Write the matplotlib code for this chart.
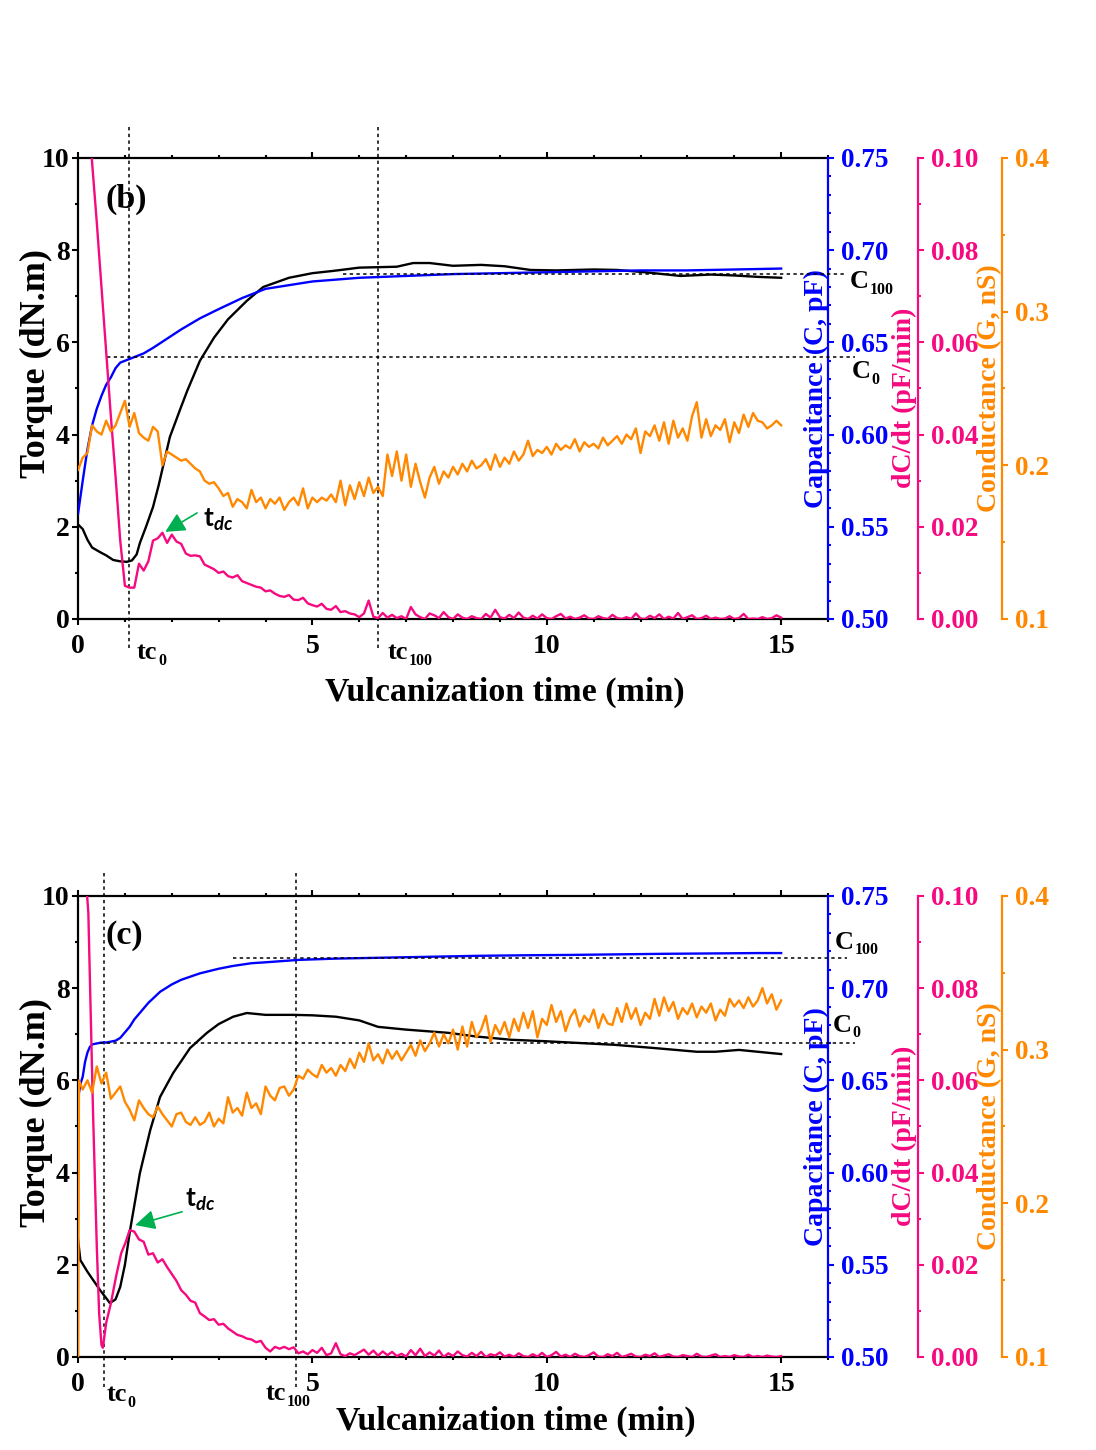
import numpy as np
import matplotlib
matplotlib.use("Agg")
import matplotlib.pyplot as plt
from matplotlib.ticker import MultipleLocator, FormatStrFormatter

# ─────────────────────────────────────────────
# STYLE
# ─────────────────────────────────────────────
plt.rcParams["font.family"] = "Liberation Serif"
plt.rcParams["font.weight"] = "bold"
plt.rcParams["mathtext.fontset"] = "custom"
plt.rcParams["mathtext.rm"] = "Liberation Serif"
plt.rcParams["mathtext.bf"] = "Liberation Serif:bold"
plt.rcParams["mathtext.sf"] = "Lato"
plt.rcParams["mathtext.it"] = "Lato:italic"

BLUE   = "#0000FF"
PINK   = "#F50A80"
ORANGE = "#FF8800"
GREEN  = "#00B050"

# ─────────────────────────────────────────────
# DATA – panel (b)
# ─────────────────────────────────────────────
torque_b_t = [0, 0.1, 0.2, 0.3, 0.47, 0.6, 0.75, 0.9, 1.04, 1.15, 1.25, 1.32, 1.45,
              1.6, 1.72, 1.82, 1.96, 2.18, 2.33, 2.6, 2.9, 3.2, 3.6, 3.95, 4.5, 5.0,
              5.45, 6.0, 6.4, 6.8, 7.15, 7.5, 8.0, 8.6, 9.1, 9.65, 10.2, 11.0, 11.5,
              12.1, 12.85, 13.5, 14.0, 14.5, 15.0]
torque_b = [2.05, 1.95, 1.72, 1.55, 1.45, 1.38, 1.28, 1.25, 1.24, 1.27, 1.40, 1.65, 2.0,
            2.43, 2.9, 3.34, 3.95, 4.55, 4.95, 5.6, 6.1, 6.5, 6.9, 7.2, 7.4, 7.5,
            7.55, 7.62, 7.63, 7.64, 7.72, 7.72, 7.66, 7.68, 7.65, 7.57, 7.56, 7.58, 7.57,
            7.52, 7.44, 7.47, 7.45, 7.42, 7.40]

cap_b_t = [0, 0.1, 0.2, 0.3, 0.4, 0.5, 0.6, 0.7, 0.8, 0.9, 1.0, 1.1, 1.2, 1.4, 1.6,
           1.9, 2.2, 2.6, 3.0, 3.5, 4.0, 4.5, 5.0, 5.5, 6.0, 6.5, 7.0, 8.0, 9.0,
           10.0, 11.0, 12.0, 13.0, 14.0, 15.0]
cap_b = [0.557, 0.575, 0.592, 0.605, 0.614, 0.621, 0.627, 0.631, 0.636, 0.639, 0.640,
         0.641, 0.642, 0.644, 0.647, 0.652, 0.657, 0.663, 0.668, 0.674, 0.679, 0.681,
         0.683, 0.684, 0.685, 0.6855, 0.686, 0.687, 0.6875, 0.688, 0.6885, 0.689,
         0.689, 0.6895, 0.690]

# dC/dt and conductance sampled every 0.1 min from 0 to 15 min
dcdt_b = [0.140, 0.127, 0.113, 0.099, 0.086, 0.072, 0.058, 0.044, 0.031, 0.017,
          0.0072, 0.0068, 0.0068, 0.0120, 0.0105, 0.0125, 0.0170, 0.0175, 0.0187, 0.0165,
          0.0183, 0.0168, 0.0163, 0.0142, 0.0137, 0.0138, 0.0136, 0.0118, 0.0113, 0.0108,
          0.0100, 0.0103, 0.0093, 0.0090, 0.0095, 0.0082, 0.0078, 0.0074, 0.0070, 0.0068,
          0.0060, 0.0062, 0.0055, 0.0050, 0.0048, 0.0052, 0.0042, 0.0041, 0.0046, 0.0034,
          0.0030, 0.0027, 0.0033, 0.0022, 0.0020, 0.0028, 0.0015, 0.0017, 0.0012, 0.0010,
          0.0004, 0.0012, 0.0040, 0.0005, 0.0002, 0.0013, 0.0003, 0.0009, 0.0002, 0.0006,
          0.0000, 0.0026, 0.0010, 0.0004, 0.0000, 0.0012, 0.0008, 0.0002, 0.0015, 0.0004,
          0.0000, 0.0010, 0.0003, 0.0000, 0.0006, 0.0002, 0.0000, 0.0011, 0.0003, 0.0020,
          0.0004, 0.0001, 0.0009, 0.0002, 0.0014, 0.0003, 0.0000, 0.0007, 0.0001, 0.0010,
          0.0002, 0.0000, 0.0006, 0.0011, 0.0001, 0.0005, 0.0000, 0.0003, 0.0008, 0.0001,
          0.0000, 0.0006, 0.0002, 0.0000, 0.0009, 0.0002, 0.0000, 0.0004, 0.0000, 0.0012,
          0.0001, 0.0000, 0.0007, 0.0002, 0.0010, 0.0000, 0.0005, 0.0001, 0.0013, 0.0000,
          0.0004, 0.0008, 0.0000, 0.0002, 0.0007, 0.0000, 0.0003, 0.0000, 0.0001, 0.0006,
          0.0000, 0.0002, 0.0011, 0.0000, 0.0001, 0.0000, 0.0004, 0.0000, 0.0002, 0.0008,
          0.0003]

cond_b = [0.197, 0.205, 0.208, 0.226, 0.222, 0.220, 0.229, 0.222, 0.226, 0.234,
          0.242, 0.225, 0.234, 0.221, 0.218, 0.216, 0.225, 0.222, 0.200, 0.209,
          0.207, 0.205, 0.203, 0.204, 0.201, 0.198, 0.196, 0.190, 0.188, 0.189,
          0.185, 0.180, 0.182, 0.173, 0.178, 0.176, 0.172, 0.184, 0.176, 0.179,
          0.172, 0.178, 0.175, 0.179, 0.171, 0.176, 0.179, 0.174, 0.185, 0.172,
          0.179, 0.176, 0.179, 0.177, 0.181, 0.176, 0.190, 0.174, 0.187, 0.178,
          0.189, 0.180, 0.192, 0.182, 0.186, 0.180, 0.207, 0.193, 0.209, 0.190,
          0.207, 0.186, 0.201, 0.189, 0.179, 0.192, 0.199, 0.188, 0.196, 0.192,
          0.199, 0.194, 0.201, 0.196, 0.203, 0.198, 0.200, 0.204, 0.197, 0.207,
          0.199, 0.205, 0.201, 0.209, 0.203, 0.207, 0.216, 0.206, 0.210, 0.208,
          0.212, 0.207, 0.214, 0.210, 0.213, 0.211, 0.217, 0.209, 0.215, 0.212,
          0.214, 0.211, 0.218, 0.213, 0.216, 0.219, 0.214, 0.220, 0.217, 0.224,
          0.208, 0.222, 0.219, 0.226, 0.216, 0.228, 0.214, 0.229, 0.218, 0.224,
          0.216, 0.232, 0.241, 0.218, 0.230, 0.219, 0.226, 0.223, 0.230, 0.215,
          0.228, 0.221, 0.233, 0.225, 0.234, 0.229, 0.228, 0.224, 0.226, 0.229,
          0.226]

tc0_b, tc100_b = 1.09, 6.40
c0_b, c100_b   = 0.642, 0.687
tdc_b          = (1.86, 1.89)     # (min, torque-axis position of the peak)

# ─────────────────────────────────────────────
# DATA – panel (c)
# ─────────────────────────────────────────────
torque_c_t = [0, 0.05, 0.2, 0.47, 0.68, 0.8, 0.9, 1.0, 1.11, 1.32, 1.54, 1.75, 2.03,
              2.39, 2.75, 3.0, 3.31, 3.6, 4.0, 4.6, 5.0, 5.5, 6.0, 6.4, 7.0, 7.9,
              8.5, 9.24, 9.94, 10.5, 11.45, 12.3, 13.2, 13.6, 14.1, 14.5, 15.0]
torque_c = [2.55, 2.1, 1.85, 1.45, 1.17, 1.25, 1.52, 2.0, 2.75, 3.99, 4.92, 5.64, 6.16,
            6.7, 7.03, 7.22, 7.38, 7.46, 7.42, 7.42, 7.41, 7.38, 7.30, 7.16, 7.10, 7.03,
            6.95, 6.88, 6.85, 6.82, 6.77, 6.70, 6.62, 6.62, 6.66, 6.62, 6.57]

cap_c_t = [0, 0.05, 0.1, 0.15, 0.2, 0.25, 0.3, 0.4, 0.5, 0.6, 0.7, 0.8, 0.9, 1.0, 1.1,
           1.2, 1.3, 1.5, 1.75, 2.0, 2.2, 2.6, 3.0, 3.3, 3.7, 4.0, 4.7, 5.5, 6.5, 7.5,
           8.5, 9.5, 10.5, 11.5, 12.5, 13.5, 14.5, 15.0]
cap_c = [0.640, 0.648, 0.652, 0.660, 0.665, 0.668, 0.6695, 0.670, 0.6705, 0.6705,
         0.671, 0.6715, 0.673, 0.676, 0.679, 0.683, 0.686, 0.692, 0.698, 0.702, 0.7045,
         0.708, 0.7105, 0.712, 0.7135, 0.714, 0.7153, 0.716, 0.7165, 0.717, 0.7175,
         0.7178, 0.718, 0.7183, 0.7186, 0.7188, 0.719, 0.719]

# steep initial part of dC/dt, then every 0.1 min from 1.1 to 15 min
dcdt_c_head_t = [0.0, 0.1, 0.18, 0.22, 0.27, 0.32, 0.4, 0.45, 0.5, 0.53, 0.6, 0.7,
                 0.81, 0.92, 1.02]
dcdt_c_head = [0.140, 0.118, 0.102, 0.0963, 0.0746, 0.053, 0.024, 0.0095, 0.0026,
               0.0020, 0.0074, 0.0116, 0.0174, 0.0225, 0.0250]
dcdt_c = [0.0275, 0.0272, 0.0255, 0.0250, 0.0222, 0.0225, 0.0205, 0.0212, 0.0195, 0.0180,
          0.0165, 0.0145, 0.0135, 0.0122, 0.0118, 0.0095, 0.0088, 0.0080, 0.0082, 0.0070,
          0.0072, 0.0062, 0.0055, 0.0048, 0.0045, 0.0040, 0.0038, 0.0032, 0.0035, 0.0020,
          0.0012, 0.0022, 0.0018, 0.0022, 0.0017, 0.0021, 0.0008, 0.0012, 0.0006, 0.0015,
          0.0009, 0.0020, 0.0004, 0.0008, 0.0030, 0.0006, 0.0002, 0.0008, 0.0004, 0.0010,
          0.0016, 0.0005, 0.0014, 0.0003, 0.0012, 0.0004, 0.0011, 0.0002, 0.0007, 0.0001,
          0.0015, 0.0004, 0.0018, 0.0002, 0.0010, 0.0003, 0.0014, 0.0000, 0.0008, 0.0002,
          0.0012, 0.0004, 0.0001, 0.0009, 0.0002, 0.0011, 0.0000, 0.0006, 0.0003, 0.0010,
          0.0001, 0.0005, 0.0000, 0.0008, 0.0002, 0.0000, 0.0006, 0.0001, 0.0009, 0.0000,
          0.0004, 0.0011, 0.0001, 0.0005, 0.0000, 0.0007, 0.0002, 0.0000, 0.0004, 0.0010,
          0.0001, 0.0000, 0.0006, 0.0002, 0.0009, 0.0000, 0.0003, 0.0007, 0.0001, 0.0000,
          0.0005, 0.0002, 0.0008, 0.0000, 0.0003, 0.0006, 0.0001, 0.0000, 0.0004, 0.0002,
          0.0000, 0.0007, 0.0001, 0.0000, 0.0003, 0.0006, 0.0000, 0.0002, 0.0000, 0.0004,
          0.0001, 0.0000, 0.0005, 0.0000, 0.0002, 0.0000, 0.0003, 0.0001, 0.0000, 0.0002]

# conductance: jump at start, then every 0.1 min from 0.1 to 15 min
cond_c_head_t = [0.0, 0.02]
cond_c_head = [0.100, 0.280]
cond_c = [0.274, 0.280, 0.272, 0.289, 0.278, 0.285, 0.268, 0.272, 0.276, 0.266,
          0.261, 0.254, 0.267, 0.262, 0.258, 0.256, 0.263, 0.258, 0.254, 0.250,
          0.258, 0.259, 0.253, 0.251, 0.256, 0.251, 0.253, 0.259, 0.250, 0.255,
          0.252, 0.269, 0.259, 0.262, 0.257, 0.272, 0.262, 0.265, 0.258, 0.276,
          0.270, 0.267, 0.275, 0.276, 0.270, 0.274, 0.283, 0.281, 0.287, 0.284,
          0.282, 0.290, 0.285, 0.288, 0.283, 0.290, 0.286, 0.294, 0.288, 0.298,
          0.292, 0.304, 0.293, 0.297, 0.291, 0.300, 0.294, 0.299, 0.293, 0.298,
          0.303, 0.296, 0.306, 0.299, 0.304, 0.311, 0.302, 0.310, 0.304, 0.313,
          0.300, 0.315, 0.302, 0.318, 0.308, 0.313, 0.322, 0.305, 0.316, 0.310,
          0.318, 0.308, 0.320, 0.312, 0.324, 0.314, 0.325, 0.308, 0.320, 0.316,
          0.329, 0.318, 0.325, 0.312, 0.321, 0.326, 0.315, 0.322, 0.318, 0.326,
          0.314, 0.323, 0.317, 0.316, 0.327, 0.318, 0.330, 0.320, 0.327, 0.316,
          0.324, 0.320, 0.333, 0.322, 0.334, 0.325, 0.331, 0.320, 0.327, 0.323,
          0.330, 0.321, 0.328, 0.324, 0.330, 0.319, 0.326, 0.322, 0.333, 0.328,
          0.332, 0.327, 0.334, 0.328, 0.332, 0.340, 0.330, 0.336, 0.326, 0.332]

tc0_c, tc100_c = 0.56, 4.65
c0_c, c100_c   = 0.6703, 0.7164
tdc_c          = (1.22, 2.86)


def grid(start, stop=15.0, step=0.1):
    return np.round(np.arange(start, stop + step / 2, step), 2)


def sub_label(ax, x, y, main, sub, size=19):
    """Bold serif label with a small subscript hanging below its baseline."""
    t = ax.text(x, y, main, fontsize=size, va="center", ha="left", clip_on=False)
    ax.annotate(sub, xy=(1.0, 0.0), xycoords=t, xytext=(0.5, -3.5),
                textcoords="offset points", fontsize=size * 0.6,
                ha="left", va="bottom", annotation_clip=False)
    return t


# ─────────────────────────────────────────────
# Panel drawing
# ─────────────────────────────────────────────
def draw_panel(fig, bottom, p):
    ax = fig.add_axes([0.0712, bottom, 0.6843, 0.318])
    ax_c = ax.twinx()
    ax_d = ax.twinx()
    ax_g = ax.twinx()

    # ── torque (left axis) ────────────────────────────────────────────
    ax.plot(p["torque_t"], p["torque"], color="black", lw=1.7, zorder=3)
    ax.set_xlim(0, 16)
    ax.set_ylim(0, 10)
    ax.xaxis.set_major_locator(MultipleLocator(5))
    ax.xaxis.set_minor_locator(MultipleLocator(1))
    ax.yaxis.set_major_locator(MultipleLocator(2))
    ax.yaxis.set_minor_locator(MultipleLocator(1))
    ax.tick_params(which="both", direction="out", width=1.5, top=True, right=False,
                   labelsize=20)
    ax.tick_params(which="major", length=4.5)
    ax.tick_params(which="minor", length=2.5)
    ax.tick_params(axis="y", pad=1.5)
    ax.tick_params(axis="x", pad=6)
    for s in ["left", "bottom", "top"]:
        ax.spines[s].set_linewidth(1.6)
    ax.spines["right"].set_visible(False)
    ax.set_ylabel("Torque (dN.m)", fontsize=26, fontweight="bold")
    ax.yaxis.set_label_coords(-0.034, p["ylab_y"])
    ax.set_xlabel("Vulcanization time (min)", fontsize=24.5, fontweight="bold")
    ax.xaxis.set_label_coords(p["xlab_x"], p["xlab_y"])

    # ── capacitance ───────────────────────────────────────────────────
    ax_c.plot(p["cap_t"], p["cap"], color=BLUE, lw=1.7)
    ax_c.set_ylim(0.50, 0.75)
    ax_c.yaxis.set_major_locator(MultipleLocator(0.05))
    ax_c.yaxis.set_minor_locator(MultipleLocator(0.01))
    ax_c.yaxis.set_major_formatter(FormatStrFormatter("%.2f"))

    # ── dC/dt ─────────────────────────────────────────────────────────
    ax_d.plot(p["dcdt_t"], p["dcdt"], color=PINK, lw=1.7)
    ax_d.set_ylim(0, 0.10)
    ax_d.yaxis.set_major_locator(MultipleLocator(0.02))
    ax_d.yaxis.set_minor_locator(MultipleLocator(0.01))
    ax_d.yaxis.set_major_formatter(FormatStrFormatter("%.2f"))
    ax_d.spines["right"].set_position(("axes", 1.12))

    # ── conductance ───────────────────────────────────────────────────
    ax_g.plot(p["cond_t"], p["cond"], color=ORANGE, lw=1.7)
    ax_g.set_ylim(0.1, 0.4)
    ax_g.yaxis.set_major_locator(MultipleLocator(0.1))
    ax_g.yaxis.set_minor_locator(MultipleLocator(0.05))
    ax_g.yaxis.set_major_formatter(FormatStrFormatter("%.1f"))
    ax_g.spines["right"].set_position(("axes", 1.232))

    for tw, col in [(ax_c, BLUE), (ax_d, PINK), (ax_g, ORANGE)]:
        for s in ["left", "bottom", "top"]:
            tw.spines[s].set_visible(False)
        tw.spines["right"].set_color(col)
        tw.spines["right"].set_linewidth(1.6)
        tw.tick_params(which="both", direction="out", width=1.5, colors=col,
                       labelsize=19.5, pad=5)
        tw.tick_params(which="major", length=4.5)
        tw.tick_params(which="minor", length=2.5)

    rlab = dict(rotation=90, ha="center", va="center", fontsize=20, fontweight="bold")
    ax_c.text(0.985, 0.50, "Capacitance (C, pF)", color=BLUE, transform=ax_c.transAxes, **rlab)
    ax_d.text(1.102, 0.48, "dC/dt (pF/min)", color=PINK, transform=ax_d.transAxes, **rlab)
    ax_g.text(1.215, 0.50, "Conductance (G, nS)", color=ORANGE, transform=ax_g.transAxes, **rlab)

    # ── reference lines tc0 / tc100 / C0 / C100 ───────────────────────
    dot = dict(color="black", lw=1.1, linestyle=(0, (2.2, 2.2)), clip_on=False, zorder=5)
    ax.plot([p["tc0"], p["tc0"]], [p["vtop"], -0.65], **dot)
    ax.plot([p["tc100"], p["tc100"]], [p["vtop"], -0.65], **dot)
    ax_c.plot([p["c0_x0"], 16.58], [p["c0"], p["c0"]], **dot)
    ax_c.plot([p["c100_x0"], 16.41], [p["c100"], p["c100"]], **dot)

    sub_label(ax, p["tc0_lab"][0], p["tc0_lab"][1], "tc", "0")
    sub_label(ax, p["tc100_lab"][0], p["tc100_lab"][1], "tc", "100")
    sub_label(ax_c, p["c100_lab"][0], p["c100_lab"][1], "C", "100")
    sub_label(ax_c, p["c0_lab"][0], p["c0_lab"][1], "C", "0")

    # ── t_dc arrow ────────────────────────────────────────────────────
    tip = p["tdc"]
    ax_g.annotate("", xy=tip, xycoords=ax.transData,
                  xytext=p["tdc_tail"], textcoords=ax.transData,
                  arrowprops=dict(arrowstyle="-|>", color=GREEN, lw=1.2,
                                  mutation_scale=30, shrinkA=0, shrinkB=0))
    ax_g.text(p["tdc_lab"][0], p["tdc_lab"][1], r"$\mathsf{t}_{\mathit{dc}}$",
              transform=ax.transData, fontsize=19, va="center", ha="left")

    ax.text(p["panel_xy"][0], p["panel_xy"][1], p["panel"], fontsize=24.5,
            fontweight="bold", ha="center", va="center")
    return ax


if __name__ == "__main__":
    fig = plt.figure(figsize=(10.96, 14.5), dpi=100)

    panel_b = dict(
        torque_t=torque_b_t, torque=torque_b, cap_t=cap_b_t, cap=cap_b,
        dcdt_t=grid(0.0), dcdt=dcdt_b, cond_t=grid(0.0), cond=cond_b,
        tc0=tc0_b, tc100=tc100_b, vtop=10.67, c0=c0_b, c100=c100_b,
        c0_x0=0.62, c100_x0=5.65,
        tc0_lab=(1.26, -0.72), tc100_lab=(6.61, -0.72),
        c100_lab=(16.47, 0.6828), c0_lab=(16.5, 0.634),
        tdc=tdc_b, tdc_tail=(2.54, 2.30), tdc_lab=(2.67, 2.15),
        panel="(b)", panel_xy=(1.03, 9.1),
        ylab_y=0.555, xlab_x=0.569, xlab_y=-0.126,
    )
    panel_c = dict(
        torque_t=torque_c_t, torque=torque_c, cap_t=cap_c_t, cap=cap_c,
        dcdt_t=np.concatenate([dcdt_c_head_t, grid(1.1)]),
        dcdt=np.concatenate([dcdt_c_head, dcdt_c]),
        cond_t=np.concatenate([cond_c_head_t, grid(0.1)]),
        cond=np.concatenate([cond_c_head, cond_c]),
        tc0=tc0_c, tc100=tc100_c, vtop=10.5, c0=c0_c, c100=c100_c,
        c0_x0=0.47, c100_x0=3.3,
        tc0_lab=(0.6, -0.82), tc100_lab=(4.0, -0.80),
        c100_lab=(16.15, 0.725), c0_lab=(16.1, 0.680),
        tdc=tdc_c, tdc_tail=(2.22, 3.15), tdc_lab=(2.28, 3.4),
        panel="(c)", panel_xy=(0.99, 9.15),
        ylab_y=0.53, xlab_x=0.584, xlab_y=-0.106,
    )

    draw_panel(fig, 1 - 619 / 1450, panel_b)
    draw_panel(fig, 1 - 1357 / 1450, panel_c)

    fig.savefig("out.png", dpi=100)
